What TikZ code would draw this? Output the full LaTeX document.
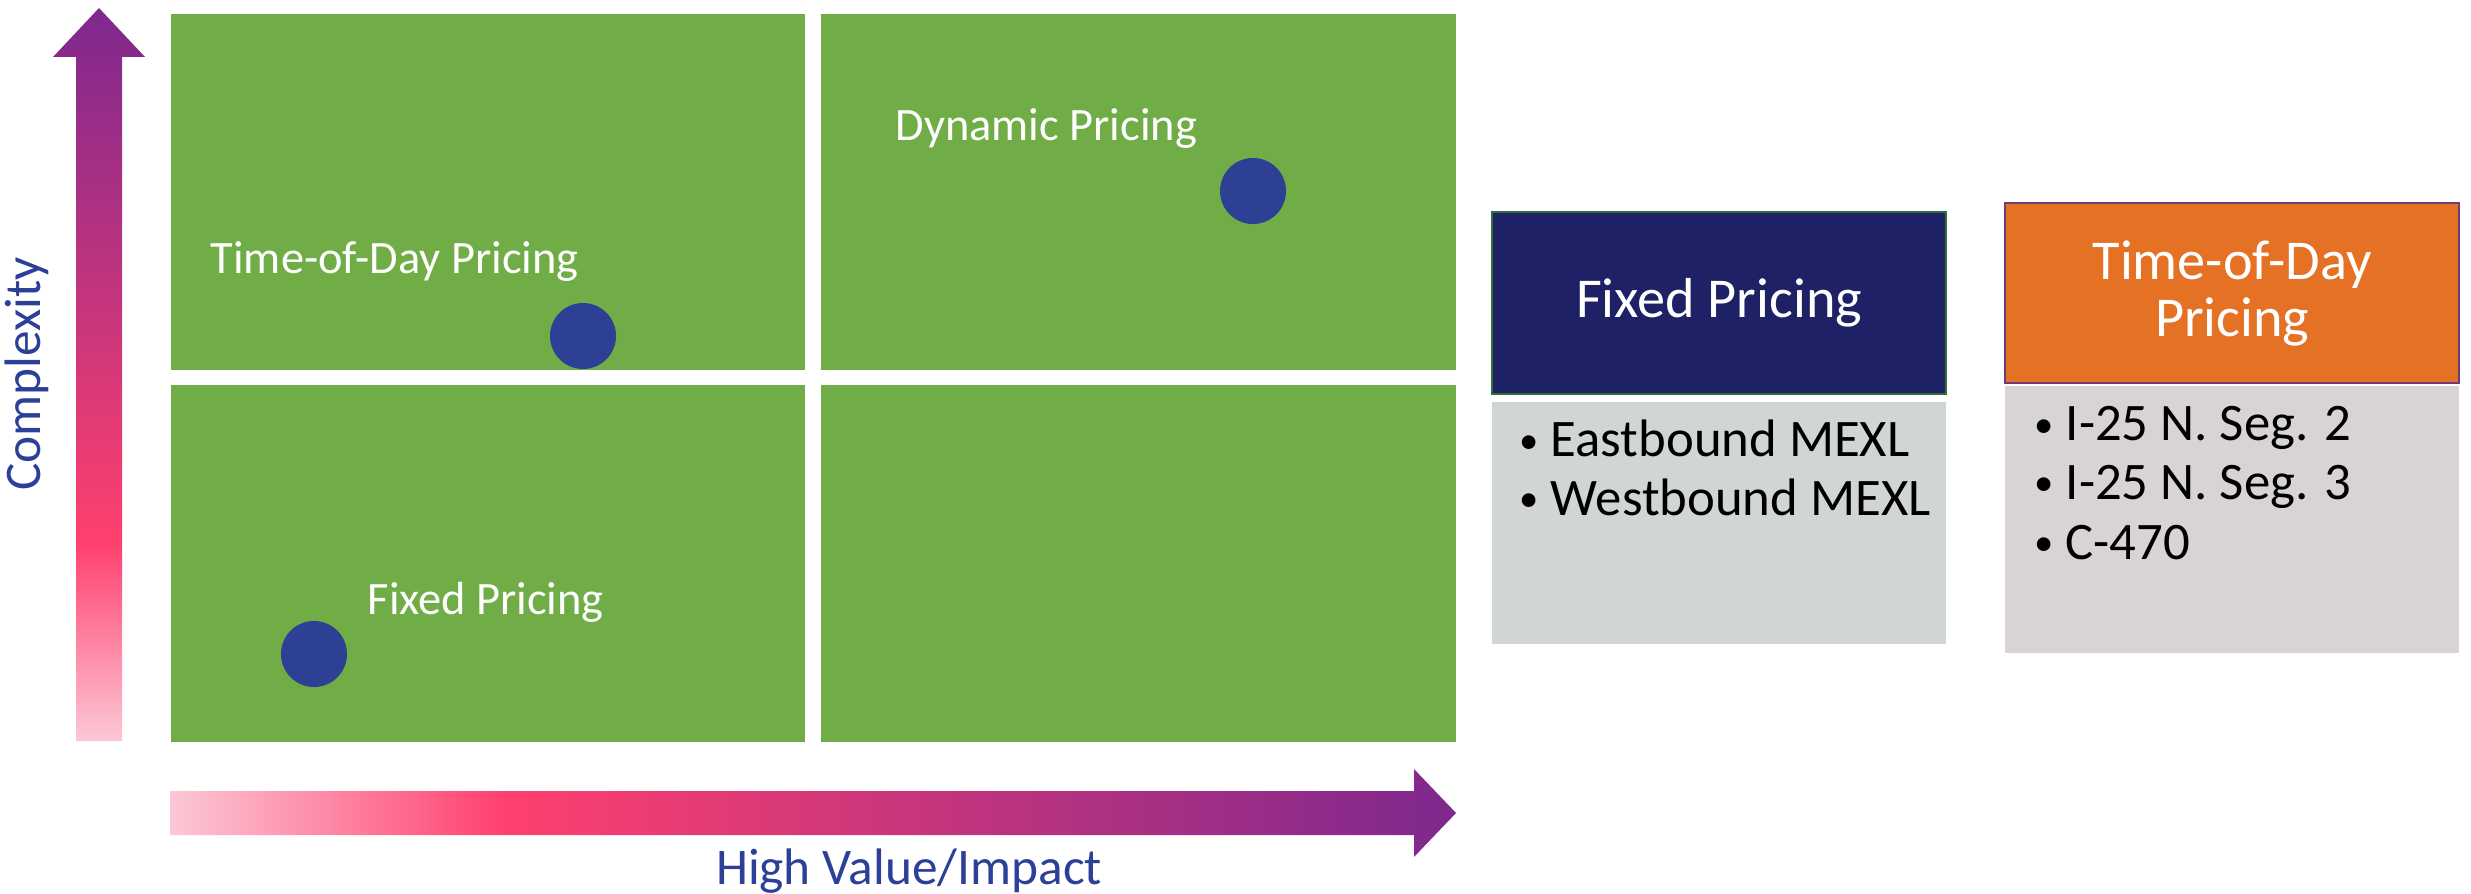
\documentclass[tikz,border=0pt]{standalone}
\usepackage{fontspec}
\setmainfont{Carlito}
\usepackage{tikz}
\usetikzlibrary{positioning}
\definecolor{quadgreen}{RGB}{112,173,71}
\definecolor{dotblue}{RGB}{46,64,148}
\definecolor{axisblue}{RGB}{44,64,152}
\definecolor{axlight}{RGB}{252,200,214}
\definecolor{axpink}{RGB}{255,64,110}
\definecolor{axpurple}{RGB}{126,40,142}
\definecolor{fixnavy}{RGB}{30,33,102}
\definecolor{fixgrey}{RGB}{209,214,210}
\definecolor{fixedge}{RGB}{46,110,60}
\definecolor{todorange}{RGB}{229,113,37}
\definecolor{todgrey}{RGB}{216,211,215}
\definecolor{todedge}{RGB}{110,60,110}
% light pink -> hot pink -> purple along both axes
\pgfdeclarehorizontalshading{valuefade}{100bp}{color(0bp)=(axlight); color(25bp)=(axlight);
  color(38bp)=(axpink); color(75bp)=(axpurple); color(100bp)=(axpurple)}
\pgfdeclareverticalshading{complexfade}{100bp}{color(0bp)=(axlight); color(25bp)=(axlight);
  color(38.5bp)=(axpink); color(75bp)=(axpurple); color(100bp)=(axpurple)}
\newcommand{\itemdot}{\makebox[3.1mm][l]{\raisebox{0.15ex}{\fontsize{11}{11}\selectfont\textbullet}}}

\begin{document}
\begin{tikzpicture}[x=0.01cm,y=-0.01cm,
quad/.style={fill=quadgreen,minimum width=6.34cm,minimum height=3.56cm,inner sep=0pt},
dot/.style={circle,fill=dotblue,minimum size=6.6mm,inner sep=0pt},
qlabel/.style={text=white,font=\fontsize{13.2}{16}\selectfont,inner sep=0pt},
axlabel/.style={text=axisblue,font=\fontsize{14.6}{17}\selectfont,inner sep=0pt},
head/.style={minimum width=4.54cm,text=white,align=center,inner sep=0pt,line width=0.6pt,
font=\fontsize{16}{16.2}\selectfont},
body/.style={minimum width=4.54cm,inner sep=0pt},
item/.style={font=\fontsize{15}{17}\selectfont,inner sep=0pt,anchor=base west}
]
\useasboundingbox (0,0) rectangle (2471,894);

% axes
\shade[shading=complexfade] (76,741) -- (76,57) -- (53,57) -- (99,8) -- (145,57)
  -- (122,57) -- (122,741) -- cycle;
\shade[shading=valuefade] (170,791) -- (1414,791) -- (1414,769) -- (1456,813)
  -- (1414,857) -- (1414,835) -- (170,835) -- cycle;
\node[axlabel,rotate=90,anchor=base] (complexity) at (41,374) {Complexity};
\node[axlabel,anchor=base] (impact) at (909,884) {High Value/Impact};

% quadrants
\node[quad,anchor=north west] (qtl) at (170,13) {};
\node[quad,right=1.5mm of qtl] (qtr) {};
\node[quad,below=1.4mm of qtl] (qbl) {};
\node[quad,right=1.5mm of qbl] (qbr) {};

% pricing options
\node[dot] (dottod) at (583,336) {};
\node[dot] (dotdyn) at (1253,191) {};
\node[dot] (dotfix) at (314,654) {};
\node[qlabel,anchor=base west] (labtod) at (210,274) {Time-of-Day Pricing};
\node[qlabel,anchor=base west] (labdyn) at (895,141) {Dynamic Pricing};
\node[qlabel,anchor=base west] (labfix) at (367,614) {Fixed Pricing};

% corridor lists
\node[head,fill=fixnavy,draw=fixedge,minimum height=1.82cm,anchor=north west] (fixhead)
  at (1491,211) {Fixed Pricing};
\node[body,fill=fixgrey,minimum height=2.42cm,below=0.6mm of fixhead] (fixbody) {};
\node[item] (fixa) at (1519,457) {\itemdot Eastbound MEXL};
\node[item] (fixb) at (1519,515) {\itemdot Westbound MEXL};

\node[head,fill=todorange,draw=todedge,minimum height=1.80cm,anchor=north west] (todhead)
  at (2004,202) {Time-of-Day\\Pricing};
\node[body,fill=todgrey,minimum height=2.67cm,below=0.1mm of todhead] (todbody) {};
\node[item] (toda) at (2034,441) {\itemdot I-25 N. Seg. 2};
\node[item] (todb) at (2034,499) {\itemdot I-25 N. Seg. 3};
\node[item] (todc) at (2034,559) {\itemdot C-470};
\end{tikzpicture}
\end{document}
